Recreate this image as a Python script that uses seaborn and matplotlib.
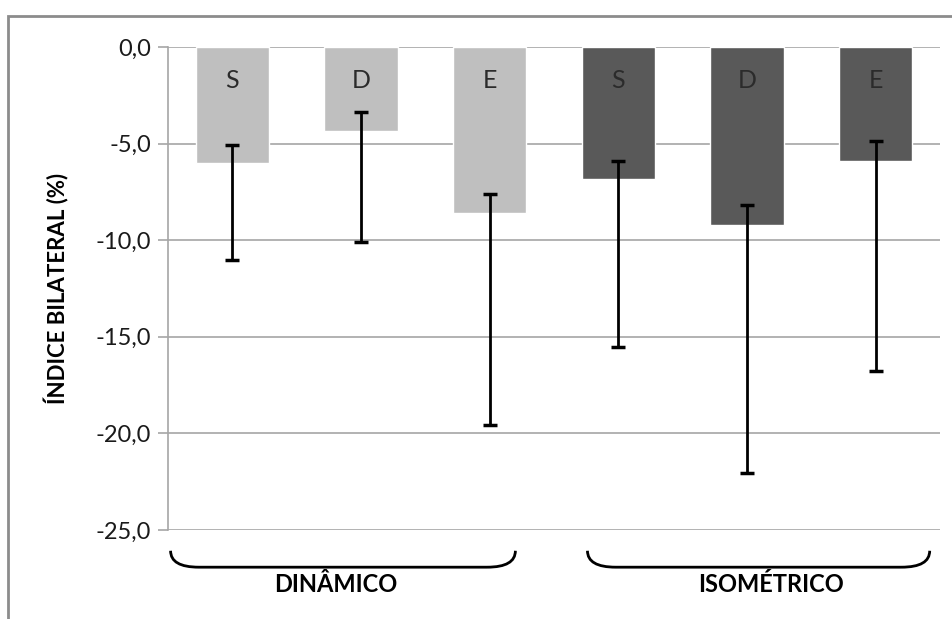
import matplotlib
matplotlib.use("Agg")
import matplotlib.pyplot as plt
import seaborn as sns
import pandas as pd
from matplotlib.path import Path
from matplotlib.patches import PathPatch, Rectangle
import matplotlib.transforms as mtransforms

# ---- data ----
grupos = ["DINÂMICO", "DINÂMICO", "DINÂMICO", "ISOMÉTRICO", "ISOMÉTRICO", "ISOMÉTRICO"]
lados = ["S", "D", "E", "S", "D", "E"]
valores = [-6.0, -4.35, -8.6, -6.85, -9.2, -5.9]
erro_sup = [-5.05, -3.35, -7.6, -5.9, -8.2, -4.85]
erro_inf = [-11.0, -10.1, -19.55, -15.55, -22.05, -16.75]
yticks = [0, -5, -10, -15, -20, -25]
ytick_labels = ["0,0", "-5,0", "-10,0", "-15,0", "-20,0", "-25,0"]
ylabel = "ÍNDICE BILATERAL (%)"

df = pd.DataFrame({
    "grupo": grupos,
    "lado": lados,
    "chave": [f"{g}-{l}" for g, l in zip(grupos, lados)],
    "valor": valores,
})

sns.set_theme(style="white")
plt.rcParams["font.family"] = ["Lato", "DejaVu Sans"]

fig = plt.figure(figsize=(9.52, 6.19), dpi=100)
ax = fig.add_axes([168 / 952, 1 - 530 / 619, (940 - 168) / 952, (530 - 47) / 619])

sns.barplot(data=df, x="chave", y="valor", hue="grupo",
            palette={"DINÂMICO": "#BFBFBF", "ISOMÉTRICO": "#595959"},
            dodge=False, width=0.57, ax=ax, legend=False, zorder=3,
            errorbar=None, saturation=1)

xs = list(ax.get_xticks())
yerr = [[v - lo for v, lo in zip(valores, erro_inf)],
        [hi - v for v, hi in zip(valores, erro_sup)]]
ax.errorbar(xs, valores, yerr=yerr, fmt="none", ecolor="black",
            elinewidth=2, capsize=5, capthick=2.5, zorder=4)

for x, l in zip(xs, lados):
    ax.text(x, -1.75, l, ha="center", va="center", fontsize=18,
            color="#2b2b2b", zorder=5)

ax.set_ylim(-25, 0)
ax.set_xlim(-0.5, len(xs) - 0.5)
ax.set_yticks(yticks)
ax.set_yticklabels(ytick_labels, fontsize=17, color="#1a1a1a")
ax.set_xticks([])
ax.set_xlabel("")
ax.set_ylabel(ylabel, fontsize=16, fontweight="bold", color="black")
ax.yaxis.set_label_coords(-0.128, 0.5)
ax.grid(axis="y", color="#A6A6A6", linewidth=1.2, zorder=0)
ax.set_axisbelow(True)
for s in ["top", "right", "bottom"]:
    ax.spines[s].set_visible(False)
ax.spines["left"].set_color("#A6A6A6")
ax.spines["left"].set_linewidth(1.2)
ax.tick_params(axis="y", left=True, length=7, width=1.2, color="#A6A6A6", pad=5)

# braces under groups (x in data, y in axes fraction)
trans = mtransforms.blended_transform_factory(ax.transData, ax.transAxes)
def brace(x0, x1):
    ytop = -0.043
    ybot = -0.077
    dx = 0.22
    verts = [(x0, ytop), (x0, ybot), (x0 + dx, ybot), (x0 + dx, ybot),
             (x1 - dx, ybot), (x1 - dx, ybot), (x1, ybot), (x1, ytop)]
    codes = [Path.MOVETO, Path.CURVE3, Path.CURVE3, Path.LINETO,
             Path.LINETO, Path.MOVETO, Path.CURVE3, Path.CURVE3]
    p = PathPatch(Path(verts, codes), fill=False, lw=2, edgecolor="black",
                  transform=trans, clip_on=False)
    ax.add_patch(p)

brace(xs[0] - 0.48, xs[2] + 0.2)
brace(xs[3] - 0.24, xs[5] + 0.42)
ax.text((xs[0] + xs[2]) / 2 - 0.2, -0.113, "DINÂMICO", transform=trans,
        ha="center", va="center", fontsize=17, fontweight="bold", color="black")
ax.text((xs[3] + xs[5]) / 2 + 0.19, -0.113, "ISOMÉTRICO", transform=trans,
        ha="center", va="center", fontsize=17, fontweight="bold", color="black")

# outer frame
fig.patches.append(Rectangle((8 / 952, -0.05), 1.1, 1 - 16 / 619 + 0.05,
                             transform=fig.transFigure, fill=False,
                             edgecolor="#8C8C8C", linewidth=2))

fig.savefig("out.png", dpi=100, facecolor="white")
